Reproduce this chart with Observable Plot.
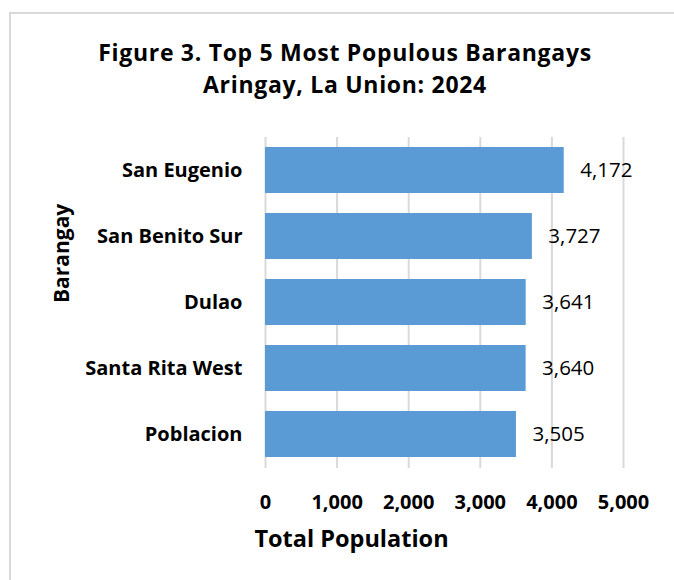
<!DOCTYPE html>
<html>
<head>
<meta charset="utf-8">
<script src="https://cdn.jsdelivr.net/npm/d3@7"></script>
<script src="https://cdn.jsdelivr.net/npm/@observablehq/plot@0.6"></script>
<style>
  html, body { margin: 0; padding: 0; overflow: hidden; background: #fff; width: 674px; height: 580px; }
  body { position: relative; font-family: "Open Sans", Lato, sans-serif; }
  #box { position: absolute; left: 9px; top: 12px; width: 700px; height: 620px; border: 2px solid #d9d9d9; box-sizing: border-box; }
  #title { position: absolute; left: 9px; top: 36px; width: 672px; text-align: center; font-weight: bold; font-size: 23px; line-height: 32px; letter-spacing: 0.7px; color: #000; }
  #chart { position: absolute; left: 0; top: 120px; }
</style>
</head>
<body>
<div id="box"></div>
<div id="title">Figure 3. Top 5 Most Populous Barangays<br>Aringay, La Union: 2024</div>
<div id="chart"></div>
<script>
const barangays = ["San Eugenio", "San Benito Sur", "Dulao", "Santa Rita West", "Poblacion"];
const population = [4172, 3727, 3641, 3640, 3505];
const xTicks = [0, 1000, 2000, 3000, 4000, 5000];
const xLabel = "Total Population";
const yLabel = "Barangay";

const data = barangays.map((name, i) => ({name, pop: population[i]}));
const fmt = d3.format(",");

const chart = Plot.plot({
  width: 674,
  height: 460,
  marginLeft: 265,
  marginRight: 51,
  marginTop: 17,
  marginBottom: 112,
  style: {fontFamily: "'Open Sans', Lato, sans-serif", color: "#000", background: "transparent"},
  x: {domain: [0, 5000]},
  y: {domain: barangays, paddingInner: 0.3, paddingOuter: 0.15},
  marks: [
    Plot.gridX(xTicks, {stroke: "#d9d9d9", strokeOpacity: 1, strokeWidth: 2}),
    Plot.barX(data, {x: "pop", y: "name", fill: "#5b9bd5"}),
    Plot.text(data, {x: "pop", y: "name", text: d => fmt(d.pop), textAnchor: "start", dx: 16, fontSize: 20.5, fill: "#000"}),
    Plot.axisX({ticks: xTicks, tickFormat: fmt, tickSize: 0, tickPadding: 26, fontSize: 20, fontWeight: "bold", label: null, fill: "#000"}),
    Plot.axisY({tickSize: 0, tickPadding: 23, fontSize: 20, fontWeight: "bold", label: null, fill: "#000"}),
    Plot.text([xLabel], {text: d => d, frameAnchor: "bottom", lineAnchor: "middle", dx: -93, dy: 71, fontSize: 23.5, fontWeight: "bold", fill: "#000"}),
    Plot.text([yLabel], {text: d => d, frameAnchor: "left", lineAnchor: "middle", dx: -203, rotate: -90, fontSize: 21, fontWeight: "bold", fill: "#000"})
  ]
});
document.getElementById("chart").appendChild(chart);
</script>
</body>
</html>
